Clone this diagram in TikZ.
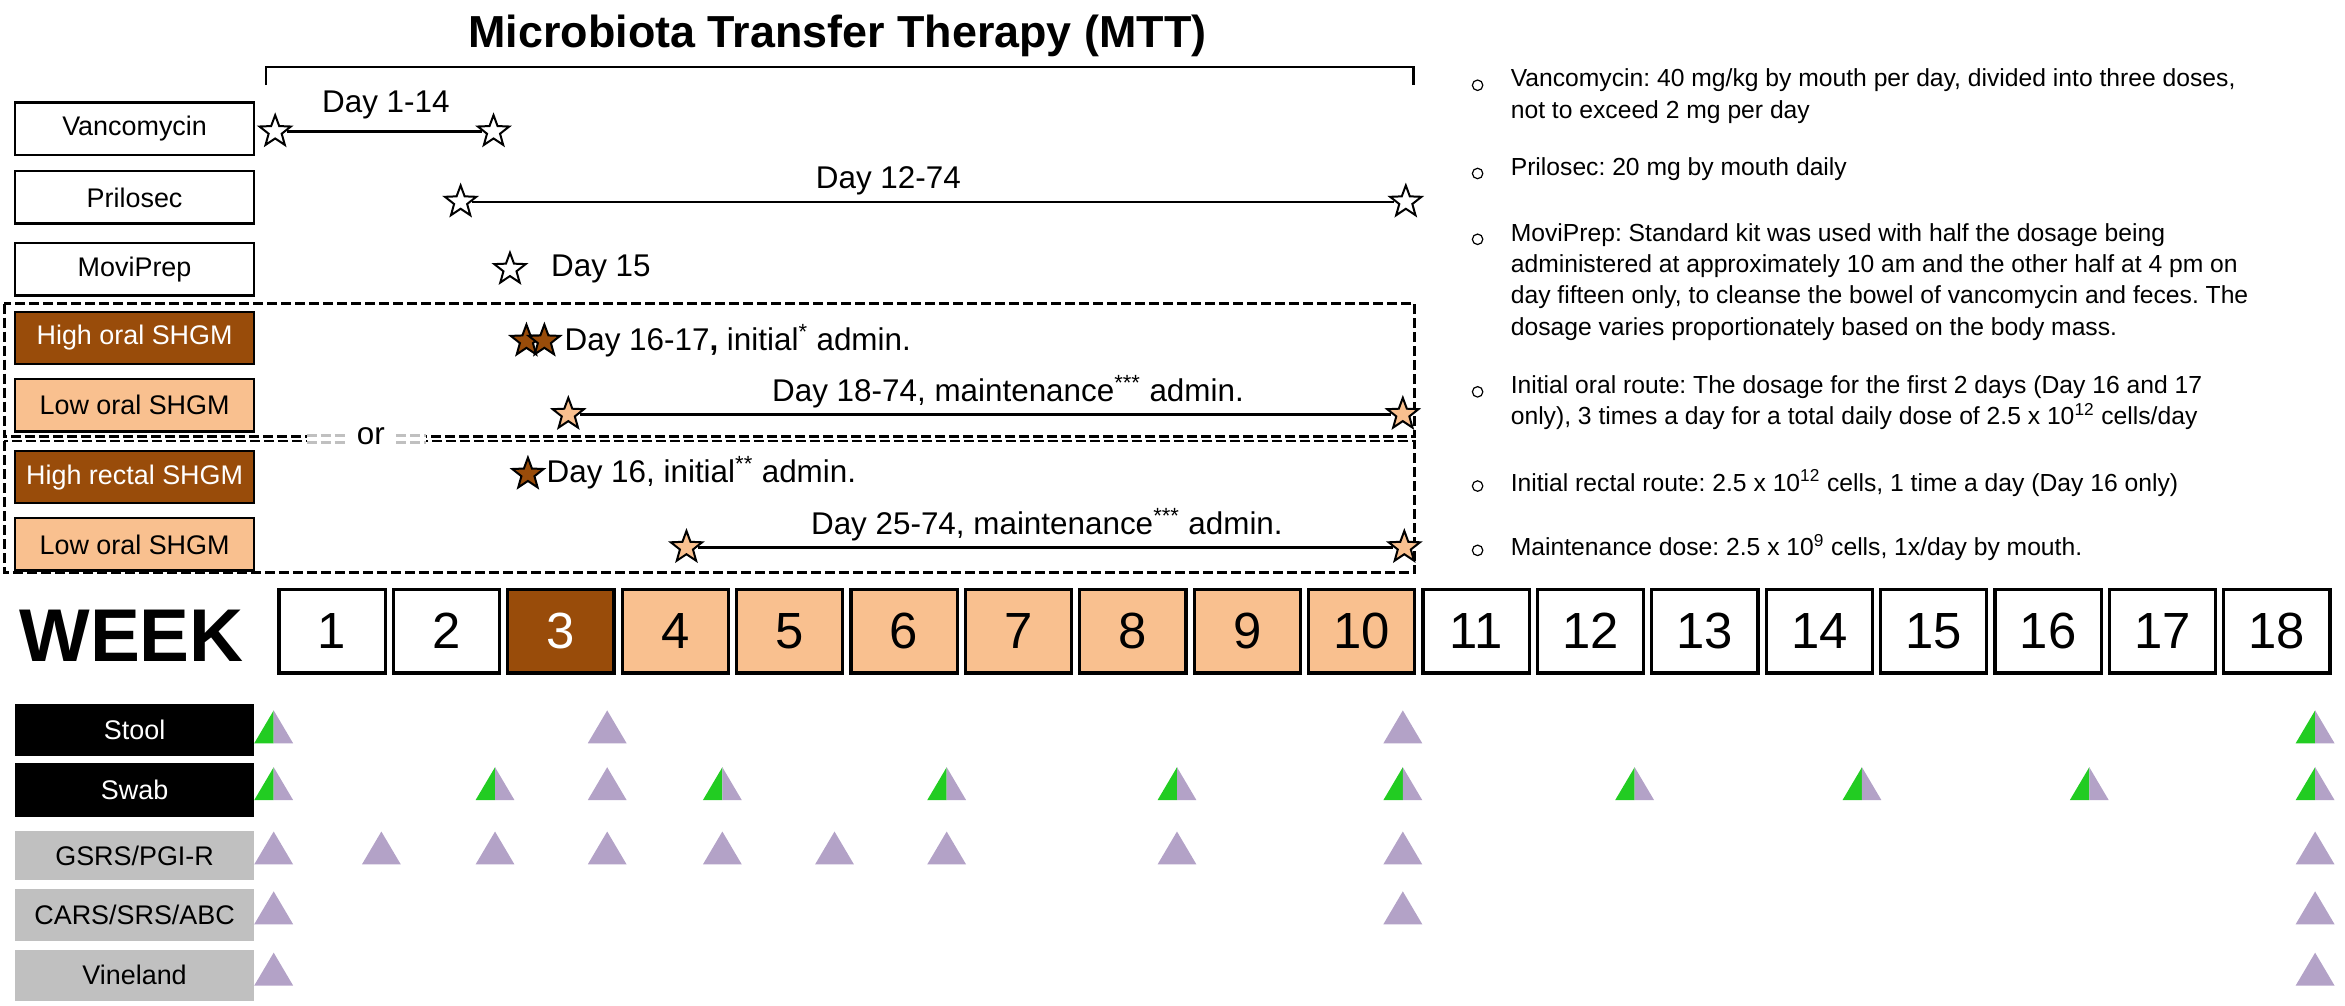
\documentclass[tikz,border=0pt]{standalone}
\usepackage{fontspec}
\setmainfont{Liberation Sans}
\usetikzlibrary{shapes.geometric}
\frenchspacing
\definecolor{brn}{HTML}{994C0A}
\definecolor{pch}{HTML}{F9C08F}
\definecolor{prp}{HTML}{B3A2C7}
\definecolor{grn}{HTML}{22CC22}
\definecolor{gry}{HTML}{C0C0C0}
\tikzset{
 lbl/.style={draw,line width=2.4pt,minimum width=160pt,minimum height=35pt,font=\fontsize{18}{20}\selectfont,inner sep=0pt},
 blk/.style={fill=black,text=white,minimum width=160pt,minimum height=35pt,font=\fontsize{18}{20}\selectfont,inner sep=0pt},
 gbx/.style={fill=gry,minimum width=160pt,minimum height=33pt,font=\fontsize{18}{20}\selectfont,inner sep=0pt},
 st/.style={star,star points=5,star point ratio=2.4,draw,line width=2pt,minimum size=22pt,inner sep=0pt},
 wk/.style={draw,line width=3.2pt,minimum width=71pt,minimum height=56pt,font=\fontsize{34}{36}\selectfont,inner sep=0pt},
 dtx/.style={font=\fontsize{21}{24}\selectfont},
 rt/.style={font=\fontsize{16.5}{21}\selectfont,anchor=north west,align=left,inner sep=0pt},
 bul/.style={draw,circle,line width=1.2pt,minimum size=7pt,inner sep=0pt},
 dsh/.style={dash pattern=on 10pt off 4pt,line width=2.6pt},
 ln/.style={line width=2.4pt},
}
\newcommand{\tri}[3]{% x y type
 \ifnum#3=1
 \fill[grn] (#1-13,#2+11) -- (#1,#2-11) -- (#1,#2+11) -- cycle;
 \fill[prp] (#1,#2+11) -- (#1,#2-11) -- (#1+13,#2+11) -- cycle;
 \else
 \fill[prp] (#1-13,#2+11) -- (#1,#2-11) -- (#1+13,#2+11) -- cycle;
 \fi}
\begin{document}
\begin{tikzpicture}[x=1pt,y=-1pt,scale=1.4955,every node/.append style={transform shape}]
\useasboundingbox (0,0) rectangle (1568,672);
% title
\node[font=\bfseries\fontsize{30}{34}\selectfont] (title) at (560,24) {Microbiota Transfer Therapy (MTT)};
\draw[ln] (178,57) -- (178,45) -- (945,45) -- (945,57);
% labels
\node[lbl] (vanc) at (90,86) {Vancomycin};
\node[lbl] (pril) at (90,132) {Prilosec};
\node[lbl] (movi) at (90,180) {MoviPrep};
\node[lbl,fill=brn,text=white] (hos) at (90,226) {High oral SHGM};
\node[lbl,fill=pch] (los) at (90,271) {Low oral SHGM};
\node[lbl,fill=brn,text=white] (hrs) at (90,319) {High rectal SHGM};
\node[lbl,fill=pch] (los2) at (90,364) {Low oral SHGM};
% dashed group boxes
\draw[dsh] (3,203) rectangle (946,292);
\draw[dsh] (3,295) rectangle (946,383);
\fill[white] (205,288) rectangle (285,299);
\draw[gry,dsh] (205,291) -- (232,291) (265,291)--(285,291);
\draw[gry,dsh] (205,296) -- (232,296) (265,296)--(285,296);
\node[dtx,fill=white,inner sep=1pt] (or) at (248,292) {or};
% vancomycin
\node[st,fill=white] (v1) at (184,88) {};
\node[st,fill=white] (v2) at (330,88) {};
\draw[ln] (v1) -- (v2);
\node[dtx] (vt) at (258,70) {Day 1-14};
% prilosec
\node[st,fill=white] (p1) at (308,135) {};
\node[st,fill=white] (p2) at (940,135) {};
\draw[ln] (p1) -- (p2);
\node[dtx] (pt) at (594,121) {Day 12-74};
% moviprep
\node[st,fill=white] (m1) at (341,180) {};
\node[dtx,anchor=west] (mt) at (365,180) {Day 15};
% high oral
\node[st,fill=brn] (h1) at (352,228) {};
\node[st,fill=brn] (h2) at (364,228) {};
\node[dtx,anchor=west] (ht) at (374,228) {Day 16-17{\bfseries,} initial\textsuperscript{*} admin.};
% low oral
\node[st,fill=pch] (l1) at (380,277) {};
\node[st,fill=pch] (l2) at (938,277) {};
\draw[ln] (l1) -- (l2);
\node[dtx] (lt) at (674,262) {Day 18-74, maintenance\textsuperscript{***} admin.};
% high rectal
\node[st,fill=brn] (r1) at (353,317) {};
\node[dtx,anchor=west] (rtx) at (362,316) {Day 16, initial\textsuperscript{**} admin.};
% low oral 2
\node[st,fill=pch] (q1) at (459,366) {};
\node[st,fill=pch] (q2) at (939,366) {};
\draw[ln] (q1) -- (q2);
\node[dtx] (qt) at (700,351) {Day 25-74, maintenance\textsuperscript{***} admin.};
% weeks
\node[font=\bfseries\fontsize{50}{54}\selectfont] (week) at (88,425) {WEEK};
\foreach \i in {1,...,18}{
 \pgfmathsetmacro{\xx}{222+76.5*(\i-1)}
 \ifnum\i=3 \node[wk,fill=brn,text=white] (w\i) at (\xx,422) {\i};
 \else\ifnum\i>3 \ifnum\i<11 \node[wk,fill=pch] (w\i) at (\xx,422) {\i};
 \else \node[wk] (w\i) at (\xx,422) {\i}; \fi
 \else \node[wk] (w\i) at (\xx,422) {\i}; \fi\fi
}
% bottom labels
\node[blk] (stool) at (90,488) {Stool};
\node[blk,minimum height=36pt] (swab) at (90,528) {Swab};
\node[gbx] (gsrs) at (90,572) {GSRS/PGI-R};
\node[gbx,minimum height=35pt] (cars) at (90,612) {CARS/SRS/ABC};
\node[gbx,minimum height=34pt] (vine) at (90,652) {Vineland};
% triangles
\foreach \x/\t in {183/1,406/0,938/0,1548/1} {\tri{\x}{486}{\t}}
\foreach \x/\t in {183/1,331/1,406/0,483/1,633/1,787/1,938/1,1093/1,1245/1,1397/1,1548/1} {\tri{\x}{524}{\t}}
\foreach \x in {183,255,331,406,483,558,633,787,938,1548} {\tri{\x}{567}{0}}
\foreach \x in {183,938,1548} {\tri{\x}{607}{0}}
\foreach \x in {183,1548} {\tri{\x}{648}{0}}
% right text
\foreach \y in {57,116,160,262,325,368} {\node[bul] at (988,\y) {};}
\node[rt] (t1) at (1010,46) {Vancomycin: 40 mg/kg by mouth per day, divided into three doses,\\not to exceed 2 mg per day};
\node[rt] (t2) at (1010,105) {Prilosec: 20 mg by mouth daily};
\node[rt] (t3) at (1010,149) {MoviPrep: Standard kit was used with half the dosage being\\administered at approximately 10 am and the other half at 4 pm on\\day fifteen only, to cleanse the bowel of vancomycin and feces. The\\dosage varies proportionately based on the body mass.};
\node[rt] (t4) at (1010,251) {Initial oral route: The dosage for the first 2 days (Day 16 and 17\\only), 3 times a day for a total daily dose of 2.5 x 10\textsuperscript{12} cells/day};
\node[rt] (t5) at (1010,314) {Initial rectal route: 2.5 x 10\textsuperscript{12} cells, 1 time a day (Day 16 only)};
\node[rt] (t6) at (1010,357) {Maintenance dose: 2.5 x 10\textsuperscript{9} cells, 1x/day by mouth.};
\end{tikzpicture}
\end{document}
